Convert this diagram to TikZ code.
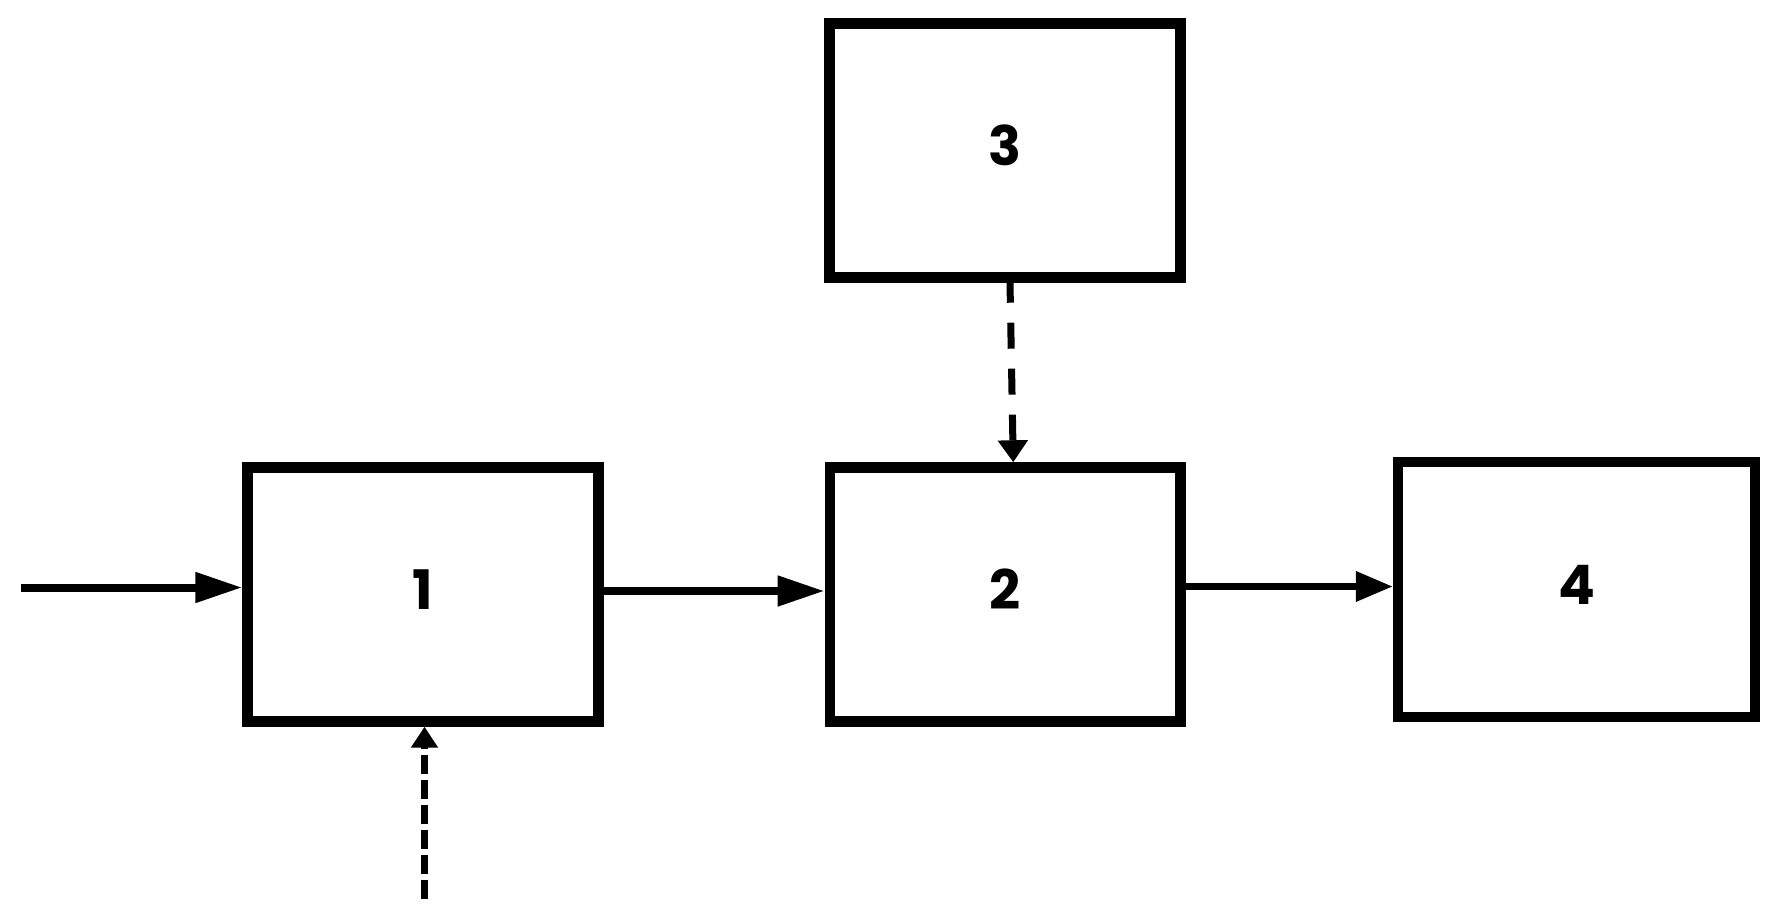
\documentclass[tikz,border=0pt]{standalone}
\usepackage{fontspec}
\setmainfont{Poppins}
\usetikzlibrary{arrows.meta}

\begin{document}
\begin{tikzpicture}[x=0.02cm,y=-0.02cm,
        blok/.style={draw,line width=0.21cm,minimum width=7.02cm,minimum height=5.08cm,
            inner sep=0pt,text depth=0.2cm,font=\bfseries\fontsize{31}{36}\selectfont},
        flow/.style={line width=0.16cm,-{Triangle[length=0.94cm,width=0.58cm]}},
        dashflow/.style={line width=0.14cm,-{Triangle[length=0.44cm,width=0.58cm]}}]
                \useasboundingbox (0,0) rectangle (1791,922);

                % blocks
                \node[blok] (b1) at (423,594.5) {1};
                \node[blok] (b2) at (1005.25,594.5) {2};
                \node[blok] (b3) at (1005,150.5) {3};
                \node[blok,minimum width=7.14cm,minimum height=5.1cm] (b4) at (1576.5,589.5) {4};

                % free ends
                \coordinate (in) at (21,587.5);
                \coordinate (ctl) at (424.5,899);
                \coordinate (o2) at ([yshift=0.16cm]b2.east);

                % links
                \draw[flow] (in) -- (in -| b1.west);
                \draw[flow] ([yshift=0.07cm]b1.east) -- ([yshift=0.07cm]b2.west);
                \draw[flow,line width=0.14cm,-{Triangle[length=0.74cm,width=0.58cm]}] (o2) -- (o2 -| b4.west);
                \draw[dashflow,dash pattern=on 0.52cm off 0.4cm,dash phase=0.12cm]
                      ([xshift=0.1cm]b3.south) -- ([xshift=0.16cm]b2.north);
                \draw[dashflow,dash pattern=on 0.38cm off 0.12cm,-{Triangle[length=0.42cm,width=0.52cm]}]
                      (ctl) -- (ctl |- b1.south);
            \end{tikzpicture}
\end{document}
